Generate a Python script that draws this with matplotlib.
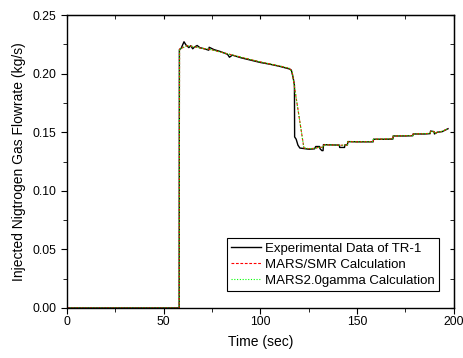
import matplotlib.pyplot as plt
from matplotlib.ticker import MultipleLocator

plt.rcParams['font.family'] = ['Liberation Sans', 'DejaVu Sans']

# experimental data (TR-1)
exp_t = [0, 58.0, 58.1, 59.0, 60.5, 61.5, 63.0, 64.0, 65.0, 66.0, 67.3, 68.7, 71.0,
         73.3, 73.5, 76.0, 79.0, 83.0, 84.0, 85.5, 90.0, 95.0, 100.0, 105.0,
         110.0, 115.0, 116.0, 117.0, 117.6, 117.7, 118.5, 119.4, 120.4, 125.0,
         128.0, 128.6, 130.6, 130.8, 131.8, 132.4, 132.6, 136.0, 140.8, 141.0,
         143.5, 143.7, 145.0, 145.2, 150.0, 158.3, 158.5, 165.0, 168.5, 168.7,
         175.0, 178.8, 179.0, 185.0, 187.8, 188.0, 189.8, 190.0, 191.5, 194.0,
         197.0]
exp_y = [0.0, 0.0, 0.2205, 0.2215, 0.2272, 0.2245, 0.2222, 0.2238, 0.2212, 0.2228,
         0.2240, 0.2222, 0.2212, 0.2200, 0.2225, 0.2205, 0.2190, 0.2165, 0.2140,
         0.2158, 0.2135, 0.2115, 0.2095, 0.2080, 0.2062, 0.2040, 0.2030, 0.1960,
         0.1900, 0.1460, 0.1440, 0.1390, 0.1365, 0.1355, 0.1358, 0.1378, 0.1378,
         0.1360, 0.1343, 0.1343, 0.1394, 0.1392, 0.1390, 0.1370, 0.1370, 0.1392,
         0.1392, 0.1420, 0.1418, 0.1418, 0.1440, 0.1440, 0.1442, 0.1468, 0.1468,
         0.1470, 0.1485, 0.1485, 0.1488, 0.1510, 0.1505, 0.1485, 0.1500, 0.1505,
         0.1530]

# MARS/SMR calculation
smr_t = [0, 58.0, 58.2, 60.0, 62.0, 65.0, 67.0, 70.0, 73.0, 80.0, 90.0, 100.0,
         110.0, 115.0, 116.5, 117.5, 122.5, 125.0, 128.0, 130.0, 132.6, 132.8,
         136.0, 140.0, 141.0, 143.5, 145.0, 145.2, 150.0, 158.3, 158.5, 165.0,
         168.5, 168.7, 175.0, 178.8, 179.0, 185.0, 187.8, 188.0, 189.8, 190.0,
         191.5, 194.0, 197.0]
smr_y = [0.0, 0.0, 0.2210, 0.2222, 0.2238, 0.2232, 0.2225, 0.2215, 0.2210, 0.2182,
         0.2140, 0.2100, 0.2065, 0.2045, 0.2010, 0.1900, 0.1365, 0.1360, 0.1362,
         0.1370, 0.1372, 0.1392, 0.1392, 0.1390, 0.1388, 0.1390, 0.1392, 0.1420,
         0.1418, 0.1420, 0.1440, 0.1442, 0.1445, 0.1468, 0.1470, 0.1472, 0.1485,
         0.1488, 0.1490, 0.1508, 0.1505, 0.1488, 0.1500, 0.1508, 0.1530]

# MARS2.0gamma calculation
gam_t = smr_t
gam_y = smr_y

fig = plt.figure(figsize=(4.64, 3.58), dpi=100)
ax = fig.add_axes([0.1444, 0.1397, 0.8336, 0.8183])

ax.plot(exp_t, exp_y, color='black', lw=1.0, label='Experimental Data of TR-1')
ax.plot(smr_t, smr_y, color='red', lw=0.8, ls=(0, (2.5, 1.5)), label='MARS/SMR Calculation')
ax.plot(gam_t, gam_y, color='#00ff00', lw=0.8, ls=(0, (1, 1.5)), label='MARS2.0gamma Calculation')

ax.set_xlim(0, 200)
ax.set_ylim(0, 0.25)
ax.xaxis.set_major_locator(MultipleLocator(50))
ax.xaxis.set_minor_locator(MultipleLocator(25))
ax.yaxis.set_major_locator(MultipleLocator(0.05))
ax.yaxis.set_minor_locator(MultipleLocator(0.025))
ax.yaxis.set_major_formatter(plt.FormatStrFormatter('%.2f'))
ax.tick_params(which='both', direction='out', labelsize=8.7, top=False, right=False)
ax.tick_params(axis='x', pad=1.5)
ax.tick_params(which='major', length=4)
ax.tick_params(which='minor', length=3)

# inward ticks on top/right like the original
axt = ax.secondary_xaxis('top')
axt.xaxis.set_major_locator(MultipleLocator(50))
axt.xaxis.set_minor_locator(MultipleLocator(25))
axt.tick_params(which='both', direction='in', labeltop=False, length=3)
axr = ax.secondary_yaxis('right')
axr.yaxis.set_major_locator(MultipleLocator(0.05))
axr.yaxis.set_minor_locator(MultipleLocator(0.025))
axr.tick_params(which='both', direction='in', labelright=False, length=3)

for s in ax.spines.values():
    s.set_linewidth(1.0)

ax.set_xlabel('Time (sec)', fontsize=10, labelpad=5)
ax.set_ylabel('Injected Nigtrogen Gas Flowrate (kg/s)', fontsize=10, labelpad=5)

leg = ax.legend(loc='lower right', bbox_to_anchor=(0.962, 0.058), fontsize=9.5,
                frameon=True, fancybox=False, edgecolor='black', framealpha=1,
                handlelength=2.3, handletextpad=0.3, borderpad=0.3, labelspacing=0.3,
                borderaxespad=0)
leg.get_frame().set_linewidth(0.8)

fig.savefig('out.png', dpi=100)
